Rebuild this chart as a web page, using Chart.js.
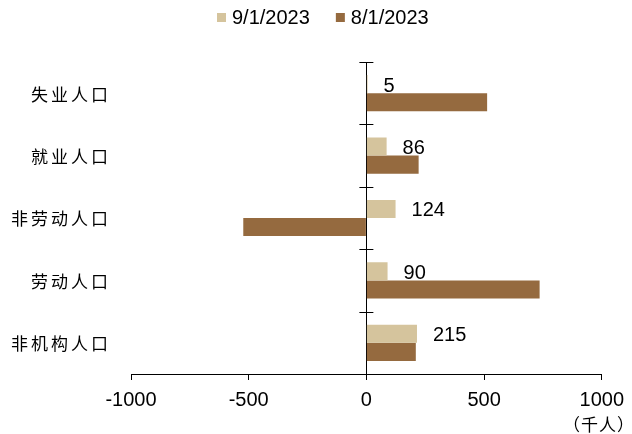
<!DOCTYPE html>
<html>
<head>
<meta charset="utf-8">
<script src="https://cdn.jsdelivr.net/npm/chart.js@4/dist/chart.umd.min.js"></script>
<style>
  html, body { margin: 0; padding: 0; background: #fff; }
  canvas { display: block; }
</style>
</head>
<body>
<canvas id="chart" width="632" height="434"></canvas>
<script>
// Population change by category (thousands)
const categories = ['失业人口', '就业人口', '非劳动人口', '劳动人口', '非机构人口'];
const seriesNames = ['9/1/2023', '8/1/2023'];
const sep2023 = [5, 86, 124, 90, 215];
const aug2023 = [513, 222, -523, 736, 210];
const xTickValues = [-1000, -500, 0, 500, 1000];
const unitText = '（千人）';

const seriesColors = ['#D5C49D', '#956A3F'];
const latinFont = '"Liberation Sans", Arial, sans-serif';
const cjkFont = '"Noto Sans CJK SC", sans-serif';

Chart.defaults.font.family = latinFont;
Chart.defaults.font.size = 20;
Chart.defaults.color = '#000';

// Extra drawing: category names, cross ticks on the zero axis, value labels, legend, unit
const decorations = {
  id: 'decorations',
  afterDatasetsDraw(chart) {
    const ctx = chart.ctx;
    const meta = chart.getDatasetMeta(0);
    ctx.save();
    ctx.font = '20px ' + latinFont;
    ctx.fillStyle = '#000';
    ctx.textAlign = 'left';
    ctx.textBaseline = 'middle';
    meta.data.forEach((bar, i) => {
      const v = chart.data.datasets[0].data[i];
      ctx.fillText(String(v), Math.max(bar.x, bar.base) + 16, bar.y + 2);
    });
    ctx.restore();
  },
  afterDraw(chart) {
    const ctx = chart.ctx;
    const y = chart.scales.y;
    const x = chart.scales.x;
    const x0 = x.getPixelForValue(0);
    ctx.save();

    // cross ticks at category boundaries on the zero axis
    ctx.strokeStyle = '#000';
    ctx.lineWidth = 1;
    const n = categories.length;
    const step = (y.bottom - y.top) / n;
    ctx.beginPath();
    for (let i = 0; i < n; i++) {
      const py = Math.round(y.top + i * step) + 0.5;
      ctx.moveTo(x0 - 7, py);
      ctx.lineTo(x0 + 7, py);
    }
    ctx.stroke();

    // category names, spaced out
    ctx.font = '17px ' + cjkFont;
    ctx.letterSpacing = '3px';
    ctx.fillStyle = '#000';
    ctx.textAlign = 'right';
    ctx.textBaseline = 'middle';
    categories.forEach((c, i) => {
      ctx.fillText(c, 111, y.getPixelForValue(i) + 1);
    });
    ctx.letterSpacing = '0px';

    // unit under the last tick
    ctx.font = '17px ' + cjkFont;
    ctx.letterSpacing = '1px';
    ctx.textAlign = 'right';
    ctx.fillText(unitText, 635, 425);
    ctx.letterSpacing = '0px';

    // legend
    ctx.font = '20px ' + latinFont;
    ctx.textAlign = 'left';
    let lx = 217;
    chart.data.datasets.forEach((ds) => {
      ctx.fillStyle = ds.backgroundColor;
      ctx.fillRect(lx, 13, 9, 9);
      ctx.fillStyle = '#000';
      ctx.fillText(ds.label, lx + 15, 18);
      lx += 15 + ctx.measureText(ds.label).width + 26;
    });
    ctx.restore();
  }
};

new Chart(document.getElementById('chart'), {
  type: 'bar',
  data: {
    labels: categories,
    datasets: [
      { label: seriesNames[0], data: sep2023, backgroundColor: seriesColors[0] },
      { label: seriesNames[1], data: aug2023, backgroundColor: seriesColors[1] }
    ]
  },
  options: {
    indexAxis: 'y',
    responsive: false,
    animation: false,
    devicePixelRatio: 1,
    categoryPercentage: 0.58,
    barPercentage: 1.0,
    layout: { padding: { top: 62, left: 131, right: 29, bottom: 0 } },
    plugins: {
      legend: { display: false },
      tooltip: { enabled: false }
    },
    scales: {
      x: {
        type: 'linear',
        min: -1000,
        max: 1000,
        afterBuildTicks: (s) => { s.ticks = xTickValues.map(v => ({ value: v })); },
        afterFit: (s) => { s.height = 60; },
        grid: { display: true, drawOnChartArea: false, drawTicks: true, tickLength: 6, color: '#000' },
        border: { display: true, color: '#000', width: 1 },
        ticks: { padding: 8, font: { size: 20 }, color: '#000', maxRotation: 0, callback: (v) => String(v) }
      },
      y: {
        type: 'category',
        position: { x: 0 },
        offset: true,
        z: 1,
        grid: { display: false },
        border: { display: true, color: '#000', width: 1 },
        ticks: { display: false }
      }
    }
  },
  plugins: [decorations]
});
</script>
</body>
</html>
